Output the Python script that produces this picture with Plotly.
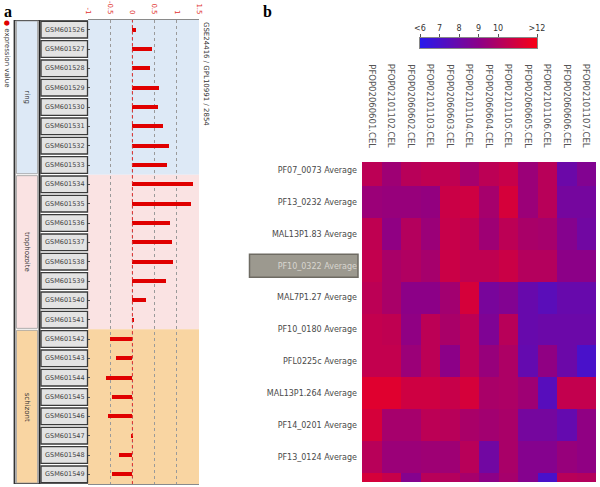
import plotly.graph_objects as go

# ---------------- data: panel a ----------------
samples = ["GSM601526", "GSM601527", "GSM601528", "GSM601529", "GSM601530", "GSM601531",
           "GSM601532", "GSM601533", "GSM601534", "GSM601535", "GSM601536", "GSM601537",
           "GSM601538", "GSM601539", "GSM601540", "GSM601541", "GSM601542", "GSM601543",
           "GSM601544", "GSM601545", "GSM601546", "GSM601547", "GSM601548", "GSM601549"]
expr = [0.08, 0.45, 0.40, 0.60, 0.57, 0.70, 0.82, 0.77,
        1.37, 1.33, 0.84, 0.89, 0.92, 0.75, 0.30, 0.03,
        -0.51, -0.37, -0.59, -0.46, -0.56, -0.02, -0.31, -0.46]
stage_names = ["ring", "trophozoite", "schizont"]
stage_first = ["GSM601526", "GSM601534", "GSM601542"]
stage_last = ["GSM601533", "GSM601541", "GSM601549"]
stage_colors = ["#dde9f6", "#fae3e3", "#f9d5a2"]
a_tickvals = [-1, -0.5, 0, 0.5, 1, 1.5]
a_ticktext = ["-1", "-0.5", "0", "0.5", "1", "1.5"]

# ---------------- data: panel b ----------------
genes = ["PF07_0073 Average", "PF13_0232 Average", "MAL13P1.83 Average", "PF10_0322 Average",
         "MAL7P1.27 Average", "PF10_0180 Average", "PFL0225c Average", "MAL13P1.264 Average",
         "PF14_0201 Average", "PF13_0124 Average"]
highlight_gene = "PF10_0322 Average"
chips = ["PFOP02060601.CEL", "PFOP02101102.CEL", "PFOP02060602.CEL", "PFOP02101103.CEL",
         "PFOP02060603.CEL", "PFOP02101104.CEL", "PFOP02060604.CEL", "PFOP02101105.CEL",
         "PFOP02060605.CEL", "PFOP02101106.CEL", "PFOP02060606.CEL", "PFOP02101107.CEL"]
heat = [
    [10.3, 9.5, 10.2, 10.4, 10.4, 9.7, 10.3, 10.6, 9.4, 10.2, 8.0, 8.7],
    [9.4, 9.3, 9.3, 9.2, 10.7, 10.8, 9.7, 11.0, 9.4, 10.2, 8.3, 8.3],
    [10.4, 9.1, 10.1, 9.4, 10.6, 10.4, 9.5, 10.3, 9.8, 9.7, 8.8, 8.2],
    [10.5, 9.8, 10.0, 9.7, 10.7, 10.4, 10.4, 10.7, 10.1, 10.1, 9.0, 9.0],
    [10.3, 9.8, 9.0, 9.0, 9.6, 11.0, 8.4, 8.7, 7.9, 7.5, 7.9, 7.9],
    [10.5, 10.4, 9.1, 10.3, 9.8, 10.3, 8.6, 10.2, 7.9, 8.0, 8.0, 8.0],
    [10.5, 10.5, 9.4, 10.3, 9.0, 10.3, 9.3, 9.9, 7.8, 9.1, 8.0, 7.0],
    [11.3, 11.3, 10.8, 10.8, 10.6, 11.0, 9.8, 9.9, 9.5, 7.4, 10.5, 10.5],
    [11.0, 9.7, 9.7, 10.3, 10.2, 9.8, 9.6, 9.8, 8.3, 8.3, 7.8, 9.1],
    [10.2, 9.4, 9.4, 9.5, 9.5, 10.2, 8.2, 9.8, 8.8, 8.8, 9.3, 9.1],
    [11.0, 10.6, 8.8, 10.2, 10.1, 9.7, 9.0, 9.7, 8.8, 7.0, 10.2, 10.1],  # partly visible row
]
cb_vals = [6, 7, 8, 9, 10, 12]
cb_text = ["<6", "7", "8", "9", "10", ">12"]

W, H = 600, 487
def px(x):
    return x / W
def py(y):
    return 1 - y / H

FONT = "DejaVu Sans"
colorscale = [[0.0, "rgb(40,25,235)"], [0.5, "rgb(140,0,135)"], [1.0, "rgb(250,0,20)"]]

fig = go.Figure()

# panel a bars
fig.add_trace(go.Bar(x=expr, y=samples, orientation="h", marker_color="#e00000",
                     marker_line_width=0, width=0.22, xaxis="x", yaxis="y",
                     showlegend=False, hoverinfo="x+y"))

# panel b heatmap
fig.add_trace(go.Heatmap(z=heat, coloraxis="coloraxis", xaxis="x2", yaxis="y2",
                         xgap=0, ygap=0))

# colour legend strip
fig.add_trace(go.Heatmap(z=[cb_vals], x=cb_vals, coloraxis="coloraxis", xaxis="x3",
                         yaxis="y3", zsmooth="best", hoverinfo="skip"))

shapes = []
annotations = []

idx = {s: i for i, s in enumerate(samples)}
for name, f, l, col in zip(stage_names, stage_first, stage_last, stage_colors):
    y0, y1 = idx[f] - 0.5, idx[l] + 0.5
    shapes.append(dict(type="rect", xref="x domain", yref="y", x0=0, x1=1, y0=y0, y1=y1,
                       fillcolor=col, line_width=0, layer="below"))
    shapes.append(dict(type="rect", xref="paper", yref="y", x0=px(16.5), x1=px(37.5),
                       y0=y0 + 0.05, y1=y1 - 0.05, fillcolor=col,
                       line=dict(color="#9a9a9a", width=0.8), layer="below"))
    annotations.append(dict(x=px(27), xref="paper", y=(idx[f] + idx[l]) / 2, yref="y",
                            xanchor="center", yanchor="middle",
                            text=name, textangle=90, showarrow=False,
                            font=dict(family=FONT, size=7, color="#333")))

# sample label boxes
for s in samples:
    i = idx[s]
    shapes.append(dict(type="rect", xref="paper", yref="y", x0=px(41), x1=px(87.5),
                       y0=i - 0.43, y1=i + 0.43, fillcolor="#e3e3e3",
                       line=dict(color="#3a3a3a", width=1.3), layer="above"))
    annotations.append(dict(x=px(64.5), xref="paper", y=s, yref="y", text=s,
                            xanchor="center", yanchor="middle",
                            showarrow=False, font=dict(family=FONT, size=6.5, color="#444")))

# frame lines of panel a
shapes += [
    dict(type="line", xref="paper", yref="y", x0=px(14.5), x1=px(14.5), y0=-0.5, y1=23.5,
         line=dict(color="#333", width=1.8)),
    dict(type="line", xref="paper", yref="y", x0=px(39.5), x1=px(39.5), y0=-0.5, y1=23.5,
         line=dict(color="#222", width=1.8)),
    dict(type="line", xref="paper", yref="y", x0=px(14), x1=px(88), y0=-0.5, y1=-0.5,
         line=dict(color="#333", width=1.5)),
    dict(type="line", xref="paper", yref="y", x0=px(14), x1=px(88), y0=23.5, y1=23.5,
         line=dict(color="#333", width=1.5)),
    dict(type="line", xref="x", yref="y domain", x0=0, x1=0, y0=0, y1=1,
         line=dict(color="#e03030", width=1, dash="dot")),
]

# highlight box behind PF10_0322 label
hi = genes.index(highlight_gene)
shapes.append(dict(type="rect", xref="paper", yref="y2", x0=px(249.5), x1=px(358),
                   y0=hi - 0.36, y1=hi + 0.36, fillcolor="#9c998f",
                   line=dict(color="#6e6b63", width=1.5), layer="below"))
gene_ticktext = [('<span style="color:#d8d6d0">%s</span>' % g) if g == highlight_gene else g
                 for g in genes]

# column labels for heatmap
for j, c in enumerate(chips):
    annotations.append(dict(x=j, xref="x2", y=py(62), yref="paper", yanchor="top",
                            xanchor="center",
                            text=c, textangle=90, showarrow=False,
                            font=dict(family=FONT, size=8.5, color="#555")))

# side texts of panel a
annotations += [
    dict(x=px(7.5), xref="paper", y=py(18), yref="paper", yanchor="top", xanchor="center",
         text='<span style="color:#e00000">●</span> expression value', textangle=90,
         showarrow=False, font=dict(family=FONT, size=7, color="#333")),
    dict(x=px(206), xref="paper", y=py(20), yref="paper", yanchor="top", xanchor="center",
         text="GSE24416 / GPL10991 / 2854", textangle=90, showarrow=False,
         font=dict(family=FONT, size=7, color="#333")),
    dict(x=px(2), xref="paper", y=py(1), yref="paper", xanchor="left", yanchor="top",
         text="<b>a</b>", showarrow=False,
         font=dict(family="Liberation Serif", size=16, color="#000")),
    dict(x=px(261), xref="paper", y=py(1), yref="paper", xanchor="left", yanchor="top",
         text="<b>b</b>", showarrow=False,
         font=dict(family="Liberation Serif", size=16, color="#000")),
]

fig.update_layout(
    width=W, height=H, margin=dict(l=0, r=0, t=0, b=0, autoexpand=False),
    paper_bgcolor="white", plot_bgcolor="white", showlegend=False,
    font=dict(family=FONT),
    shapes=shapes, annotations=annotations,
    coloraxis=dict(colorscale=colorscale, cmin=6, cmax=12, showscale=False),
    bargap=0,
    xaxis=dict(domain=[px(88), px(199)], range=[-1, 1.5], side="top", anchor="y",
               tickvals=a_tickvals, ticktext=a_ticktext, tickangle=90,
               tickfont=dict(size=7, color="#e03030"), ticks="", ticklabelstandoff=2,
               showgrid=True, gridcolor="#9a9a9a", griddash="dot", gridwidth=1,
               zeroline=False, showline=True, mirror=True, linecolor="#8a8a8a",
               linewidth=1, automargin=False),
    yaxis=dict(domain=[py(484), py(20)], range=[23.5, -0.5], anchor="x",
               showticklabels=False, ticks="inside", ticklen=2, tickcolor="#555",
               showgrid=False, zeroline=False, type="category", automargin=False),
    xaxis2=dict(domain=[px(362), px(596)], range=[-0.5, 11.5], anchor="y2",
                showticklabels=False, showgrid=False, zeroline=False, ticks="",
                automargin=False),
    yaxis2=dict(domain=[py(482), py(162)], range=[9.78, -0.25], anchor="x2",
                tickvals=list(range(len(genes))), ticktext=gene_ticktext,
                tickfont=dict(family=FONT, size=8, color="#4a4a4a"), ticks="",
                ticklabelstandoff=4, showgrid=False, zeroline=False, automargin=False),
    xaxis3=dict(domain=[px(420), px(537)], range=[6, 12], anchor="y3", side="top",
                tickvals=cb_vals, ticktext=cb_text, ticks="outside", ticklen=3,
                tickcolor="#555", tickfont=dict(size=8, color="#333"),
                showline=True, mirror=True, linecolor="#888", showgrid=False,
                zeroline=False, automargin=False),
    yaxis3=dict(domain=[py(48), py(38)], range=[-0.5, 0.5], anchor="x3",
                showticklabels=False, showgrid=False, zeroline=False, ticks="",
                showline=True, mirror=True, linecolor="#888", automargin=False),
)

fig.write_html("out.html", config={"displayModeBar": False},
               post_script="document.body.style.margin='0';document.body.style.overflow='hidden';")
